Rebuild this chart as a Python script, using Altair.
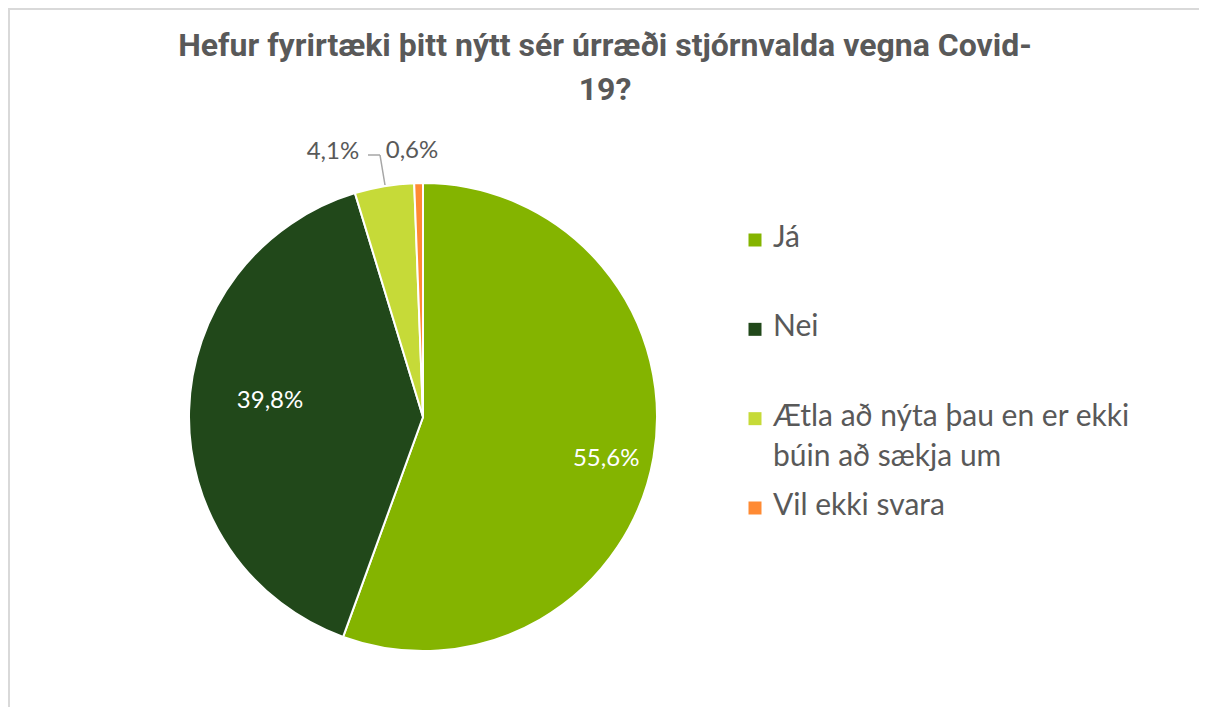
import altair as alt
import pandas as pd

# ---- data ----
categories = ["Já", "Nei", "Ætla að nýta þau en er ekki búin að sækja um", "Vil ekki svara"]
shares = [55.6, 39.8, 4.1, 0.6]
share_labels = ["55,6%", "39,8%", "4,1%", "0,6%"]
legend_lines = [["Já"], ["Nei"], ["Ætla að nýta þau en er ekki", "búin að sækja um"], ["Vil ekki svara"]]
colors = ["#84B400", "#21481A", "#C6DA38", "#FF8A33"]
title_lines = ["Hefur fyrirtæki þitt nýtt sér úrræði stjórnvalda vegna Covid-", "19?"]

df = pd.DataFrame({
    "cat": categories,
    "share": shares,
    "label": share_labels,
    "legend": legend_lines,
    "idx": list(range(len(categories))),
})
title_df = pd.DataFrame({"t": [title_lines]})

# ---- layout (view coordinates; view origin is page (8, 8)) ----
W, H = 1191, 699
O = 8
CX = 423 - O
CY = 417 - O
R = 234
TXT = "#595959"
FONT = "Lato"

base = alt.Chart(df)
color = alt.Color("cat:N", scale=alt.Scale(domain=categories, range=colors), legend=None)
theta = alt.Theta("share:Q", stack=True)
order = alt.Order("idx:Q")

pie = base.mark_arc(radius=R, stroke="white", strokeWidth=2).encode(
    theta=theta, color=color, order=order, x=alt.value(CX), y=alt.value(CY)
)


def slice_label(cat, r, col, dx=0, dy=0):
    return base.transform_calculate(
        t=f"datum.cat == '{cat}' ? datum.label : ''"
    ).mark_text(
        radius=r, dx=dx, dy=dy, font=FONT, fontSize=24, color=col,
        align="center", baseline="middle"
    ).encode(
        theta=theta, detail="cat:N", order=order, text="t:N",
        x=alt.value(CX), y=alt.value(CY)
    )


lab_ja = slice_label(categories[0], 187, "white", dx=-1, dy=10)
lab_nei = slice_label(categories[1], 155, "white", dx=2, dy=-12)
lab_aetla = slice_label(categories[2], 266, TXT, dx=-46, dy=-3)
lab_vil = slice_label(categories[3], 266, TXT, dx=-6)

leader1 = base.transform_filter(alt.datum.idx == 2).mark_rule(color="#A6A6A6", strokeWidth=1.5).encode(
    x=alt.value(368 - O), x2=alt.value(380 - O),
    y=alt.value(155 - O), y2=alt.value(155 - O)
)
leader2 = base.transform_filter(alt.datum.idx == 2).mark_rule(color="#A6A6A6", strokeWidth=1.5).encode(
    x=alt.value(380 - O), x2=alt.value(385 - O),
    y=alt.value(155 - O), y2=alt.value(185 - O)
)

# legend drawn from the same categories / colour scale
ysc = alt.Y("cat:N", sort=categories, axis=None,
            scale=alt.Scale(range=[240 - O, 508 - O], padding=0))
leg_sq = base.mark_square(size=169, opacity=1).encode(
    x=alt.value(755 - O), y=ysc, color=color
)
leg_tx = base.mark_text(
    align="left", baseline="alphabetic", dy=7, font=FONT, fontSize=30,
    color=TXT, lineHeight=40
).encode(x=alt.value(773 - O), y=ysc, text="legend:N")

# title
title = alt.Chart(title_df).mark_text(
    align="center", baseline="alphabetic", font="Roboto", fontSize=32,
    fontWeight="bold", color=TXT, lineHeight=44
).encode(x=alt.value(605 - O), y=alt.value(56 - O), text="t:N")

# frame (top and left lines)
frame_top = base.transform_filter(alt.datum.idx == 0).mark_rule(color="#D9D9D9", strokeWidth=2).encode(
    x=alt.value(0), x2=alt.value(W), y=alt.value(1), y2=alt.value(1)
)
frame_left = base.transform_filter(alt.datum.idx == 0).mark_rule(color="#D9D9D9", strokeWidth=2).encode(
    x=alt.value(1), x2=alt.value(1), y=alt.value(1), y2=alt.value(H)
)

chart = alt.layer(
    frame_top, frame_left, title, pie, lab_ja, lab_nei, lab_aetla, lab_vil,
    leader1, leader2, leg_sq, leg_tx
).properties(
    width=W, height=H,
    autosize=alt.AutoSizeParams(type="none"),
    padding=0,
    background="white",
).configure_view(stroke=None)

chart.save("out.html", embed_options={"renderer": "svg", "actions": False})
